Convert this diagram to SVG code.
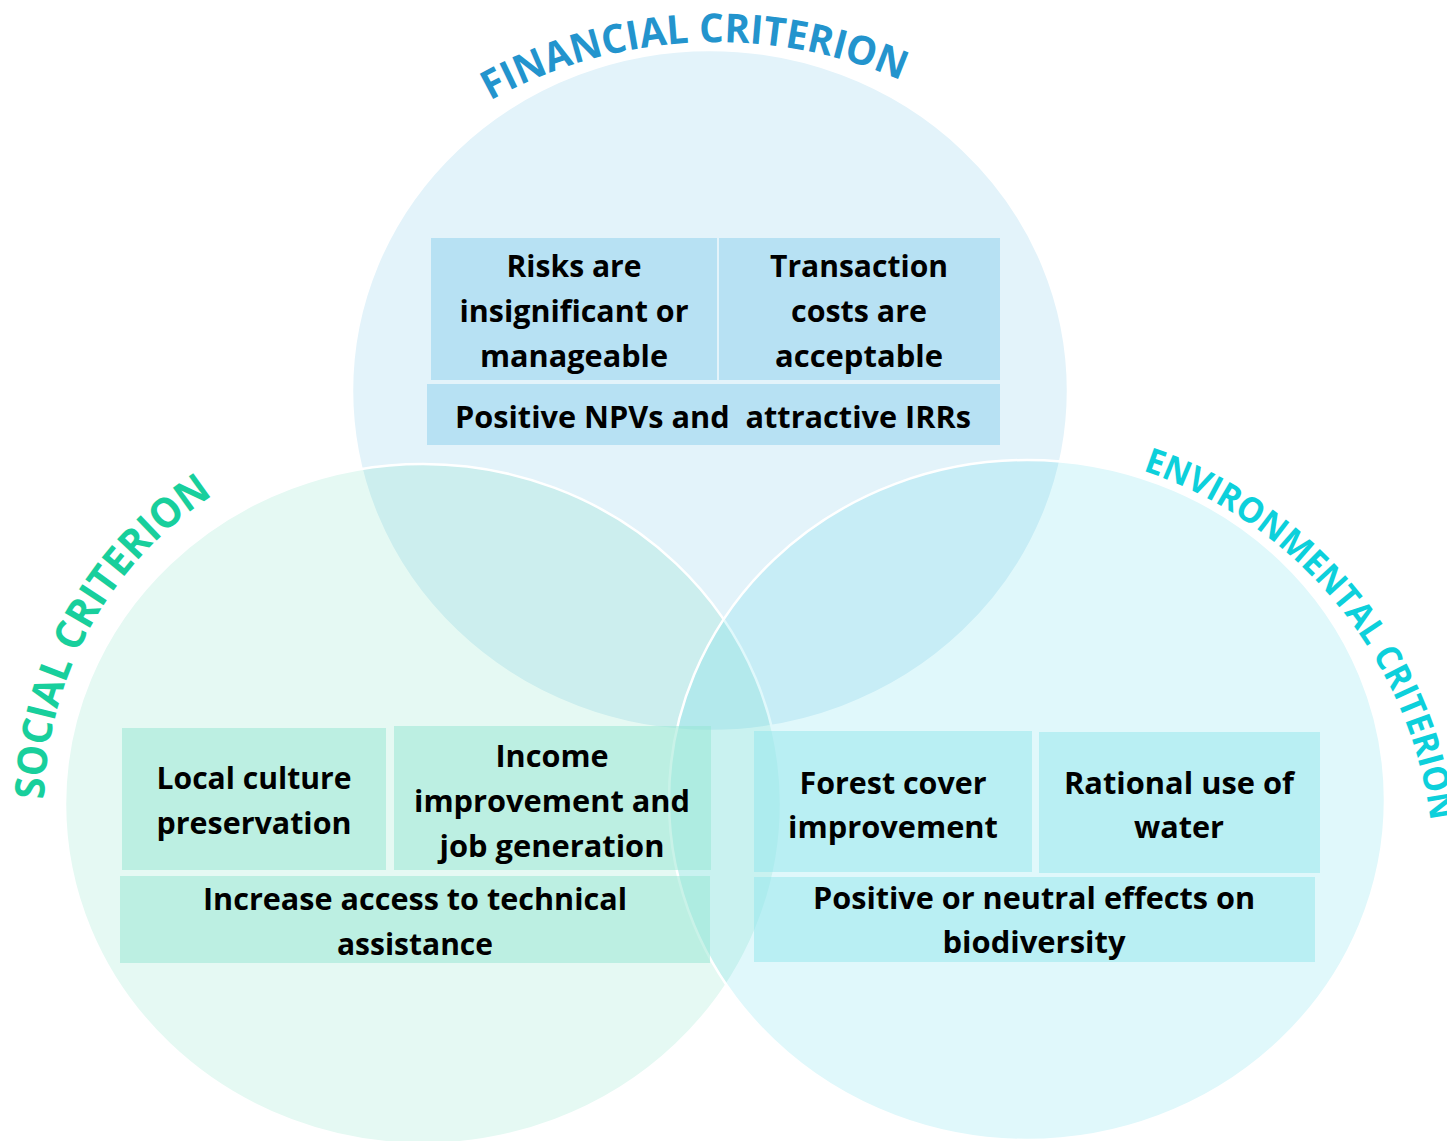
<svg xmlns="http://www.w3.org/2000/svg" width="1447" height="1141" viewBox="0 0 1447 1141">
<style>
  .circ { stroke: #ffffff; stroke-width: 2.5; }
  .fin-c { fill: rgb(42,160,215); fill-opacity: 0.13; }
  .soc-c { fill: rgb(20,200,150); fill-opacity: 0.11; }
  .env-c { fill: rgb(0,200,220); fill-opacity: 0.12; }
  .fin-b { fill: #8CCFEC; fill-opacity: 0.5; }
  .soc-b { fill: #94E6D1; fill-opacity: 0.5; }
  .env-b { fill: #91E5EC; fill-opacity: 0.5; }
  .lbl { font-family: "Open Sans", "Noto Sans", "Liberation Sans", sans-serif; font-weight: 700; font-size: 30px; fill: #000000; text-anchor: middle; }
  .ttl { font-family: "Open Sans", "Noto Sans", "Liberation Sans", sans-serif; font-weight: 700; text-anchor: middle; }
</style>
<defs>
  <path id="finArc" d="M400.1,165.8 A465,465 0 0,1 997.1,136.6"/>
  <path id="socArc" d="M56,900 A372,372 0 0,1 330,445"/>
  <path id="envArc" d="M1040,450 A426,426 0 0,1 1432,915"/>
</defs>
<rect width="1447" height="1141" fill="#ffffff"/>

<g id="criteria">
  <g id="financial-criterion">
    <ellipse class="circ fin-c" cx="710" cy="390.5" rx="358" ry="340.5"/>
    <text class="ttl" font-size="40" fill="#2394CD"><textPath href="#finArc" startOffset="50%" textLength="426" lengthAdjust="spacingAndGlyphs">FINANCIAL CRITERION</textPath></text>
  </g>
  <g id="social-criterion">
    <ellipse class="circ soc-c" cx="423" cy="804" rx="358" ry="340"/>
    <text class="ttl" font-size="41" fill="#18CF9C"><textPath href="#socArc" startOffset="47.8%" textLength="362" lengthAdjust="spacingAndGlyphs">SOCIAL CRITERION</textPath></text>
  </g>
  <g id="environmental-criterion">
    <ellipse class="circ env-c" cx="1027" cy="800" rx="358" ry="340"/>
    <text class="ttl" font-size="35" fill="#0DD0DB"><textPath href="#envArc" startOffset="50.8%" textLength="478" lengthAdjust="spacingAndGlyphs">ENVIRONMENTAL CRITERION</textPath></text>
  </g>
</g>

<g id="connectors"></g>

<g id="financial-items">
  <g id="risks">
    <rect class="fin-b" x="431" y="238" width="286" height="142"/>
    <text class="lbl"><tspan x="574" y="277" textLength="135" lengthAdjust="spacingAndGlyphs">Risks are</tspan><tspan x="574" y="322" textLength="229" lengthAdjust="spacingAndGlyphs">insignificant or</tspan><tspan x="574" y="367" textLength="188" lengthAdjust="spacingAndGlyphs">manageable</tspan></text>
  </g>
  <g id="transaction-costs">
    <rect class="fin-b" x="719" y="238" width="281" height="142"/>
    <text class="lbl"><tspan x="859" y="277" textLength="178" lengthAdjust="spacingAndGlyphs">Transaction</tspan><tspan x="859" y="322" textLength="136" lengthAdjust="spacingAndGlyphs">costs are</tspan><tspan x="859" y="367" textLength="168" lengthAdjust="spacingAndGlyphs">acceptable</tspan></text>
  </g>
  <g id="npv-irr">
    <rect class="fin-b" x="427" y="384" width="573" height="61"/>
    <text class="lbl" x="713" y="428" textLength="516" lengthAdjust="spacingAndGlyphs" xml:space="preserve">Positive NPVs and  attractive IRRs</text>
  </g>
</g>

<g id="social-items">
  <g id="local-culture">
    <rect class="soc-b" x="122" y="728" width="264" height="142"/>
    <text class="lbl"><tspan x="254" y="789" textLength="195" lengthAdjust="spacingAndGlyphs">Local culture</tspan><tspan x="254" y="834" textLength="195" lengthAdjust="spacingAndGlyphs">preservation</tspan></text>
  </g>
  <g id="income">
    <rect class="soc-b" x="394" y="726" width="317" height="144"/>
    <text class="lbl"><tspan x="552" y="767" textLength="113" lengthAdjust="spacingAndGlyphs">Income</tspan><tspan x="552" y="812" textLength="276" lengthAdjust="spacingAndGlyphs">improvement and</tspan><tspan x="552" y="857" textLength="225" lengthAdjust="spacingAndGlyphs">job generation</tspan></text>
  </g>
  <g id="technical-assistance">
    <rect class="soc-b" x="120" y="876" width="590" height="87"/>
    <text class="lbl"><tspan x="415" y="910" textLength="424" lengthAdjust="spacingAndGlyphs">Increase access to technical</tspan><tspan x="415" y="955" textLength="156" lengthAdjust="spacingAndGlyphs">assistance</tspan></text>
  </g>
</g>

<g id="environmental-items">
  <g id="forest-cover">
    <rect class="env-b" x="754" y="731" width="278" height="141"/>
    <text class="lbl"><tspan x="893" y="794" textLength="187" lengthAdjust="spacingAndGlyphs">Forest cover</tspan><tspan x="893" y="838" textLength="210" lengthAdjust="spacingAndGlyphs">improvement</tspan></text>
  </g>
  <g id="water">
    <rect class="env-b" x="1039" y="732" width="281" height="141"/>
    <text class="lbl"><tspan x="1179" y="794" textLength="230" lengthAdjust="spacingAndGlyphs">Rational use of</tspan><tspan x="1179" y="838" textLength="90" lengthAdjust="spacingAndGlyphs">water</tspan></text>
  </g>
  <g id="biodiversity">
    <rect class="env-b" x="754" y="877" width="561" height="85"/>
    <text class="lbl"><tspan x="1034" y="909" textLength="442" lengthAdjust="spacingAndGlyphs">Positive or neutral effects on</tspan><tspan x="1034" y="953" textLength="183" lengthAdjust="spacingAndGlyphs">biodiversity</tspan></text>
  </g>
</g>
</svg>
